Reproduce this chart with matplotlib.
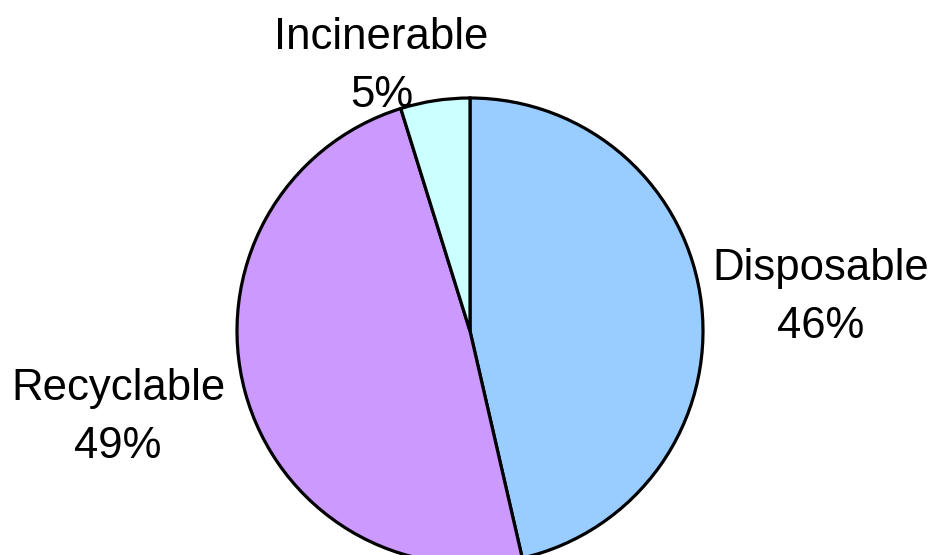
import matplotlib

matplotlib.use("Agg")
import matplotlib.pyplot as plt

plt.rcParams["font.family"] = ["Liberation Sans", "DejaVu Sans"]

# ---------- data ----------
categories = ["Disposable", "Recyclable", "Incinerable"]
shares = [46.4, 48.8, 4.8]
colors = ["#99CCFF", "#CC99FF", "#CCFFFF"]

# label anchor points in pie units (centre of text block)
label_pos = [(1.506, 0.145), (-1.51, -0.37), (-0.38, 1.135)]

# ---------- figure ----------
W, H = 932, 555
fig = plt.figure(figsize=(W / 100, H / 100), dpi=100)
cx, cy, r = 470, 331, 233
ax = fig.add_axes([(cx - r) / W, (H - cy - r) / H, 2 * r / W, 2 * r / H])

wedges, _ = ax.pie(
    shares,
    colors=colors,
    startangle=90,
    counterclock=False,
    radius=1.0,
    wedgeprops={"edgecolor": "black", "linewidth": 2.3},
)
for w in wedges:
    w.set_clip_on(False)

ax.set_xlim(-1, 1)
ax.set_ylim(-1, 1)
ax.set_aspect("equal")
ax.axis("off")

total = sum(shares)
for name, val, (lx, ly) in zip(categories, shares, label_pos):
    ax.text(
        lx, ly,
        f"{name}\n{round(100 * val / total)}%",
        ha="center", va="center",
        fontsize=31.5, linespacing=1.52,
        clip_on=False,
    )

fig.savefig("out.png", dpi=100)
